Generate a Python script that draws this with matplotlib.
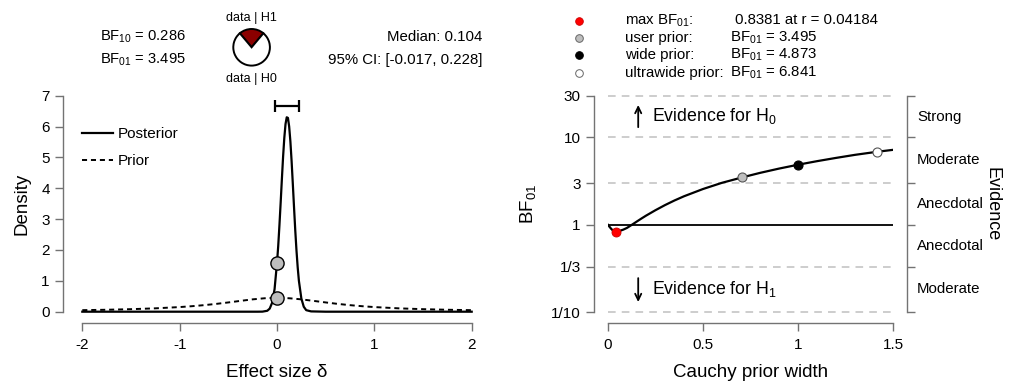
import matplotlib
matplotlib.use("Agg")
import matplotlib.pyplot as plt
import matplotlib.transforms as mtransforms

plt.rcParams['font.family'] = ['Liberation Sans', 'DejaVu Sans']
plt.rcParams['mathtext.fontset'] = 'custom'
plt.rcParams['mathtext.rm'] = 'Liberation Sans'
plt.rcParams['mathtext.it'] = 'Liberation Sans:italic'
plt.rcParams['mathtext.default'] = 'regular'
plt.rcParams['axes.unicode_minus'] = False

# ---------------- data ----------------
post_x = [-2, -0.5, -0.2, -0.15, -0.1, -0.075, -0.05, -0.025, 0, 0.0125, 0.025, 0.0375,
          0.05, 0.0625, 0.075, 0.0875, 0.1, 0.1125, 0.125, 0.1375, 0.15, 0.1625, 0.175,
          0.1875, 0.2, 0.2125, 0.225, 0.25, 0.275, 0.3, 0.35, 0.5, 2]
post_y = [0, 0, 0, 0.002, 0.03, 0.10, 0.29, 0.73, 1.58, 2.13, 2.80, 3.53,
          4.29, 5.02, 5.63, 6.08, 6.30, 6.28, 6.00, 5.52, 4.88, 4.14, 3.38,
          2.64, 1.99, 1.44, 1.00, 0.43, 0.16, 0.05, 0.01, 0, 0]
prior_x = [-2, -1.75, -1.5, -1.25, -1, -0.875, -0.75, -0.625, -0.5, -0.375, -0.25, -0.125, 0,
           0.125, 0.25, 0.375, 0.5, 0.625, 0.75, 0.875, 1, 1.25, 1.5, 1.75, 2]
prior_y = [0.050, 0.063, 0.082, 0.109, 0.150, 0.178, 0.212, 0.253, 0.300, 0.351, 0.400, 0.436, 0.450,
           0.436, 0.400, 0.351, 0.300, 0.253, 0.212, 0.178, 0.150, 0.109, 0.082, 0.063, 0.050]
pt_post_0 = 1.58
pt_prior_0 = 0.45
ci_low, ci_high = -0.017, 0.228
median = 0.104
bf10 = 0.286
bf01 = 3.495

r_vals = [0, 0.008, 0.016, 0.025, 0.033, 0.042, 0.06, 0.08, 0.1, 0.125, 0.15, 0.175, 0.2,
          0.25, 0.3, 0.35, 0.4, 0.5, 0.6, 0.707, 0.8, 0.9, 1.0, 1.1, 1.2, 1.3, 1.414, 1.5]
bf_vals = [1.0, 0.95, 0.905, 0.865, 0.845, 0.838, 0.851, 0.881, 0.923, 1.0, 1.086, 1.178, 1.274,
           1.472, 1.683, 1.901, 2.123, 2.570, 3.027, 3.495, 3.93, 4.40, 4.873, 5.35, 5.83, 6.32,
           6.841, 7.21]
max_r, max_bf = 0.04184, 0.8381
user_r, user_bf = 0.707, 3.495
wide_r, wide_bf = 1.0, 4.873
ultra_r, ultra_bf = 1.414, 6.841

bf_ticks = [0.1, 1/3, 1, 3, 10, 30]
bf_ticklabels = ['1/10', '1/3', '1', '3', '10', '30']
evidence_labels = ['Moderate', 'Anecdotal', 'Anecdotal', 'Moderate', 'Strong']

# ---------------- figure ----------------
W, H = 1016, 383
fig = plt.figure(figsize=(W / 100, H / 100), dpi=100)

def fx(px):
    return px / W

def fy(py):
    return 1 - py / H

spine_col = '0.45'
PT = 72 / 100  # points per pixel

# overlay axes in pixel coordinates for header
ov = fig.add_axes([0, 0, 1, 1], zorder=0)
ov.set_xlim(0, W)
ov.set_ylim(H, 0)
ov.axis('off')

# -------- left panel --------
ax1 = fig.add_axes([fx(82.3), fy(311.7), fx(471.7) - fx(82.3), fy(95.7) - fy(311.7)])
ax1.plot(post_x, post_y, color='black', lw=1.6, clip_on=False, zorder=3, label='Posterior')
ax1.plot(prior_x, prior_y, color='black', lw=1.4, ls=(0, (2.6, 2.0)), clip_on=False,
         zorder=2, label='Prior')
ax1.plot([0], [pt_post_0], 'o', ms=9.5, mfc='#bebebe', mec='black', mew=1.0, clip_on=False, zorder=4)
ax1.plot([0], [pt_prior_0], 'o', ms=9.5, mfc='#bebebe', mec='black', mew=1.0, clip_on=False, zorder=4)
ax1.errorbar([median], [6.68], xerr=[[median - ci_low], [ci_high - median]], fmt='none',
             ecolor='black', elinewidth=1.6, capsize=4.5, capthick=1.6, clip_on=False)
ax1.set_xlim(-2, 2)
ax1.set_ylim(0, 7)
ax1.set_xticks([-2, -1, 0, 1, 2])
ax1.set_yticks(range(0, 8))
for s in ['top', 'right']:
    ax1.spines[s].set_visible(False)
ax1.spines['left'].set_position(('outward', 19.6 * PT))
ax1.spines['bottom'].set_position(('outward', 11.6 * PT))
ax1.spines['left'].set_bounds(0, 7)
ax1.spines['bottom'].set_bounds(-2, 2)
for s in ['left', 'bottom']:
    ax1.spines[s].set_color(spine_col)
    ax1.spines[s].set_linewidth(1.0)
ax1.tick_params(axis='both', labelsize=11, length=5.8, width=1.0, color=spine_col)
ax1.tick_params(axis='y', pad=3.5)
ax1.tick_params(axis='x', pad=4.5)
ax1.set_xlabel('Effect size δ', fontsize=13.5, labelpad=9)
ax1.set_ylabel('Density', fontsize=13.5, labelpad=8)
ax1.legend(loc='upper left', bbox_to_anchor=(0.0, 0.853), frameon=False, fontsize=11,
           handlelength=2.0, handletextpad=0.35, labelspacing=0.85, borderpad=0,
           borderaxespad=0)
ax1.patch.set_alpha(0)

# header left
ov.text(100, 37, 'BF$_{10}$ = %.3f' % bf10, fontsize=10.6, ha='left', va='center')
ov.text(100, 60, 'BF$_{01}$ = %.3f' % bf01, fontsize=10.6, ha='left', va='center')
ov.text(482.5, 37, 'Median: %.3f' % median, fontsize=10.8, ha='right', va='center')
ov.text(482.5, 60, '95%% CI: [%.3f, %.3f]' % (ci_low, ci_high), fontsize=10.8, ha='right', va='center')
ov.text(251.6, 18, 'data | H1', fontsize=9, ha='center', va='center')
ov.text(251.6, 79, 'data | H0', fontsize=9, ha='center', va='center')

# pie
rad = 18.3
half = rad * 1.05
axp = fig.add_axes([fx(251.6 - half), fy(47.3 + half), 2 * half / W, 2 * half / H])
p1 = bf10 / (1 + bf10)
axp.pie([p1, 1 - p1], colors=['#8b0000', 'white'], startangle=90 - p1 * 180,
        counterclock=True, wedgeprops=dict(edgecolor='black', linewidth=1.4))
axp.set_xlim(-1.05, 1.05)
axp.set_ylim(-1.05, 1.05)
axp.set_aspect('equal')
axp.axis('off')

# -------- right panel --------
ax2 = fig.add_axes([fx(608), fy(312.3), fx(893) - fx(608), fy(95.7) - fy(312.3)])
ax2.set_yscale('log')
ax2.set_xlim(0, 1.5)
ax2.set_ylim(0.1, 30)
for lv in [0.1, 1/3, 3, 10, 30]:
    ax2.axhline(lv, color='#c0c0c0', lw=1.1, ls=(0, (5, 4)), zorder=1, clip_on=False)
ax2.axhline(1, color='black', lw=1.3, zorder=2)
ax2.plot(r_vals, bf_vals, color='black', lw=1.6, zorder=3)
ax2.plot([max_r], [max_bf], 'o', ms=6.5, mfc='#ff0000', mec='#cc0000', mew=0.6, zorder=4)
ax2.plot([user_r], [user_bf], 'o', ms=6.5, mfc='#bebebe', mec='#555555', mew=0.8, zorder=4)
ax2.plot([wide_r], [wide_bf], 'o', ms=6.5, mfc='black', mec='black', mew=0.8, zorder=4)
ax2.plot([ultra_r], [ultra_bf], 'o', ms=6.5, mfc='white', mec='#555555', mew=0.8, zorder=4)
ax2.set_xticks([0, 0.5, 1, 1.5])
ax2.set_xticklabels(['0', '0.5', '1', '1.5'])
ax2.set_yticks(bf_ticks)
ax2.set_yticklabels(bf_ticklabels)
ax2.yaxis.set_minor_locator(matplotlib.ticker.NullLocator())
ax2.spines['top'].set_visible(False)
ax2.spines['left'].set_position(('outward', 13.7 * PT))
ax2.spines['bottom'].set_position(('outward', 11 * PT))
ax2.spines['right'].set_position(('outward', 14 * PT))
ax2.spines['left'].set_bounds(0.1, 30)
ax2.spines['right'].set_bounds(0.1, 30)
ax2.spines['bottom'].set_bounds(0, 1.5)
for s in ['left', 'bottom', 'right']:
    ax2.spines[s].set_color(spine_col)
    ax2.spines[s].set_linewidth(1.0)
ax2.tick_params(axis='both', labelsize=11, length=5.8, width=1.0, color=spine_col)
ax2.tick_params(axis='y', right=True, labelright=False, pad=4)
ax2.tick_params(axis='x', pad=4.5)
ax2.set_xlabel('Cauchy prior width', fontsize=13.5, labelpad=9)
ax2.set_ylabel('BF$_{01}$', fontsize=13.5, labelpad=9)
ax2.patch.set_alpha(0)

trans = mtransforms.blended_transform_factory(ax2.transAxes, ax2.transData)
mids = [(bf_ticks[i] * bf_ticks[i + 1]) ** 0.5 for i in range(len(bf_ticks) - 1)]
for m, lab in zip(mids, evidence_labels):
    ax2.text(1.085, m, lab, transform=trans, fontsize=10.8, ha='left', va='center')
ax2.text(1.348, 0.5, 'Evidence', transform=ax2.transAxes, fontsize=13, rotation=270,
         ha='center', va='center')
arrow_kw = dict(arrowstyle='->,head_length=0.45,head_width=0.22', color='black', lw=1.3,
                shrinkA=0, shrinkB=0)
ax2.annotate('', xy=(0.106, 23.5), xytext=(0.106, 13.1), xycoords=trans, textcoords=trans,
             arrowprops=arrow_kw)
ax2.annotate('', xy=(0.106, 0.131), xytext=(0.106, 0.246), xycoords=trans, textcoords=trans,
             arrowprops=arrow_kw)
ax2.text(0.155, 17.5, 'Evidence for H$_0$', transform=trans, fontsize=12.8, ha='left', va='center')
ax2.text(0.155, 0.185, 'Evidence for H$_1$', transform=trans, fontsize=12.8, ha='left', va='center')

# header right (legend)
rows_y = [20.5, 38, 55, 72.5]
ov.plot([579], [rows_y[0]], 'o', ms=5.5, mfc='#ff0000', mec='#cc0000', mew=0.6)
ov.plot([579], [rows_y[1]], 'o', ms=5.5, mfc='#bebebe', mec='#666666', mew=0.7)
ov.plot([579], [rows_y[2]], 'o', ms=5.5, mfc='black', mec='black', mew=0.7)
ov.plot([579], [rows_y[3]], 'o', ms=5.5, mfc='white', mec='#666666', mew=0.7)
ov.text(625, rows_y[0], 'max BF$_{01}$:', fontsize=10.8, ha='left', va='center')
ov.text(735, rows_y[0], '%.4f at r = %.5f' % (max_bf, max_r), fontsize=10.8, ha='left', va='center')
ov.text(625, rows_y[1], 'user prior:', fontsize=10.8, ha='left', va='center')
ov.text(729.5, rows_y[1], 'BF$_{01}$ = %.3f' % user_bf, fontsize=10.8, ha='left', va='center')
ov.text(625, rows_y[2], 'wide prior:', fontsize=10.8, ha='left', va='center')
ov.text(729.5, rows_y[2], 'BF$_{01}$ = %.3f' % wide_bf, fontsize=10.8, ha='left', va='center')
ov.text(625, rows_y[3], 'ultrawide prior:', fontsize=10.8, ha='left', va='center')
ov.text(729.5, rows_y[3], 'BF$_{01}$ = %.3f' % ultra_bf, fontsize=10.8, ha='left', va='center')

fig.savefig('out.png', dpi=100)
